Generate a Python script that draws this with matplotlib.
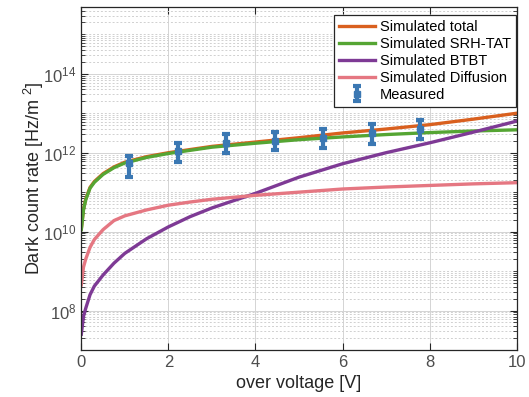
import numpy as np
from matplotlib import pyplot as plt
from matplotlib.ticker import FixedLocator, NullFormatter

plt.rcParams['font.family'] = ['Liberation Sans', 'DejaVu Sans']
plt.rcParams['mathtext.fontset'] = 'custom'
plt.rcParams['mathtext.rm'] = 'Liberation Sans'

v_sim = [0, 0.05, 0.1, 0.2, 0.3, 0.5, 0.75, 1, 1.5, 2, 2.5, 3, 4, 5, 6, 7, 8, 9, 10]
log_total = [10.07, 10.57, 10.82, 11.12, 11.27, 11.47, 11.64, 11.76, 11.90, 12.00,
             12.08, 12.16, 12.27, 12.38, 12.50, 12.60, 12.71, 12.85, 13.00]
log_srh = [10.05, 10.55, 10.80, 11.10, 11.25, 11.45, 11.62, 11.74, 11.88, 11.98,
           12.06, 12.14, 12.24, 12.33, 12.40, 12.46, 12.51, 12.55, 12.58]
log_btbt = [7.40, 7.85, 8.05, 8.40, 8.62, 8.90, 9.20, 9.45, 9.82, 10.12,
            10.38, 10.60, 10.97, 11.38, 11.72, 12.00, 12.25, 12.52, 12.80]
log_diff = [8.65, 9.10, 9.30, 9.60, 9.80, 10.05, 10.28, 10.40, 10.55, 10.67,
            10.75, 10.82, 10.92, 11.00, 11.08, 11.13, 11.17, 11.21, 11.24]

v_meas = [1.1, 2.22, 3.33, 4.45, 5.56, 6.67, 7.79]
dcr_meas = [5.6e11, 1.1e12, 1.8e12, 1.95e12, 2.4e12, 3.2e12, 3.9e12]
dcr_low = [2.45e11, 5.8e11, 1.0e12, 1.15e12, 1.35e12, 1.7e12, 2.2e12]
dcr_high = [8.1e11, 1.8e12, 2.9e12, 3.3e12, 4.0e12, 5.4e12, 6.6e12]

labels = ['Simulated total', 'Simulated SRH-TAT', 'Simulated BTBT',
          'Simulated Diffusion', 'Measured']


def plot_data(ax):
    v = np.array(v_sim)
    ax.plot(v, 10**np.array(log_total), '-', color='#d9601f', lw=2.4, label=labels[0])
    ax.plot(v, 10**np.array(log_srh), '-', color='#55a533', lw=2.4, label=labels[1])
    ax.plot(v, 10**np.array(log_btbt), '-', color='#7e3a95', lw=2.4, label=labels[2])
    ax.plot(v, 10**np.array(log_diff), '-', color='#e57782', lw=2.4, label=labels[3])

    y = np.array(dcr_meas)
    yerr = [y - np.array(dcr_low), np.array(dcr_high) - y]
    ax.errorbar(v_meas, y, yerr=yerr, fmt='s', color='#3b78b3', ms=4.5,
                elinewidth=3, capsize=3.2, capthick=3, label=labels[4], zorder=5)

    ax.set_yscale('log')
    ax.set_xlim(0, 10)
    ax.set_ylim(1e7, 5e15)

    ax.set_xticks([0, 2, 4, 6, 8, 10])
    ax.yaxis.set_major_locator(FixedLocator([1e8, 1e10, 1e12, 1e14]))
    minor = [k * 10.0**n for n in range(7, 16) for k in range(1, 10)
             if not (k == 1 and n in (8, 10, 12, 14))]
    ax.yaxis.set_minor_locator(FixedLocator(minor))
    ax.yaxis.set_minor_formatter(NullFormatter())

    ax.grid(True, which='major', color='#d4d4d4', lw=0.7, ls='-')
    ax.grid(True, which='minor', axis='y', color='#d0d0d0', lw=0.7, ls=(0, (2, 2)))
    ax.set_axisbelow(True)

    ax.tick_params(which='both', direction='in', top=True, right=True,
                   colors='#262626', labelcolor='#4d4d4d', labelsize=12)
    ax.tick_params(which='major', length=5)
    ax.tick_params(which='minor', length=3)
    for s in ax.spines.values():
        s.set_color('#262626')
        s.set_linewidth(0.9)

    ax.set_xlabel('over voltage [V]', fontsize=13, color='#262626')
    ax.set_ylabel('Dark count rate [Hz/m $^2$]', fontsize=13, color='#262626',
                  labelpad=-2)

    leg = ax.legend(loc='upper right', bbox_to_anchor=(0.998, 0.976),
                    fontsize=10.5, handlelength=2.5, borderaxespad=0,
                    fancybox=False, framealpha=1, labelspacing=0.2,
                    handletextpad=0.3, borderpad=0.35)
    leg.get_frame().set_edgecolor('#262626')
    leg.get_frame().set_linewidth(0.9)
    return ax


if __name__ == '__main__':
    fig = plt.figure(figsize=(5.29, 3.97), dpi=100)
    ax = fig.add_axes([0.1537, 0.1184, 0.823, 0.8646])
    plot_data(ax)
    fig.savefig('out.png', dpi=100)
